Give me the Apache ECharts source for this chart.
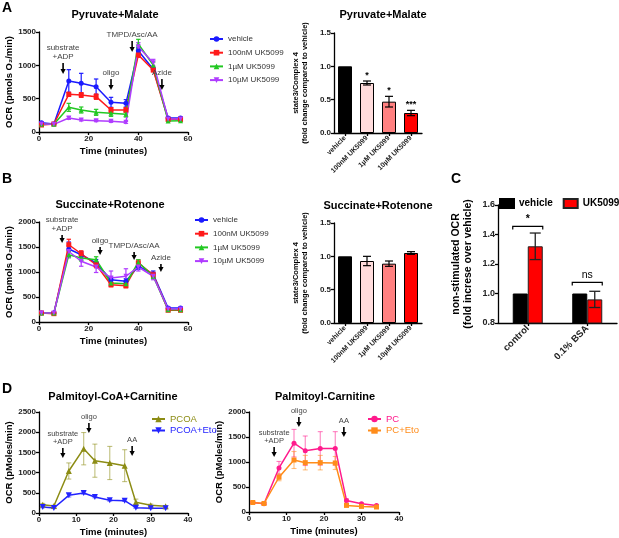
<!DOCTYPE html>
<html><head><meta charset="utf-8">
<script src="https://cdn.jsdelivr.net/npm/echarts@6/dist/echarts.min.js"></script>
<style>html,body{margin:0;padding:0;background:#fff}#c{width:619px;height:538px}</style>
</head><body><div id="c"></div>
<script>
// ---------- DATA ----------
const timeAB = [1, 6, 12, 17, 23, 29, 35, 40, 46, 52, 57];
const seriesNames = ['vehicle', '100nM UK5099', '1µM UK5099', '10µM UK5099'];

// Panel A (Pyruvate+Malate) OCR
const pmVehicle = [140, 120, 765, 730, 680, 445, 430, 1220, 940, 210, 210];
const pmVehicleErr = [15, 10, 170, 150, 115, 75, 55, 50, 30, 15, 15];
const pm100nM = [105, 120, 565, 555, 530, 330, 330, 1155, 930, 190, 190];
const pm100nMErr = [15, 15, 30, 35, 40, 35, 35, 35, 25, 10, 10];
const pm1uM = [115, 115, 370, 330, 295, 280, 265, 1320, 1005, 165, 170];
const pm1uMErr = [10, 10, 60, 45, 45, 45, 40, 70, 45, 10, 10];
const pm10uM = [120, 115, 210, 180, 170, 160, 145, 1280, 1040, 195, 195];
const pm10uMErr = [10, 10, 20, 15, 15, 15, 15, 60, 50, 10, 10];

// Panel B (Succinate+Rotenone) OCR
const srVehicle = [180, 180, 1460, 1345, 1180, 845, 815, 1115, 960, 280, 280];
const srVehicleErr = [15, 15, 140, 60, 70, 60, 50, 60, 60, 20, 20];
const sr100nM = [180, 167, 1545, 1365, 1145, 745, 725, 1180, 945, 235, 235];
const sr100nMErr = [15, 10, 110, 60, 60, 40, 40, 60, 50, 15, 15];
const sr1uM = [180, 180, 1345, 1280, 1245, 780, 765, 1195, 915, 245, 245];
const sr1uMErr = [15, 15, 60, 60, 60, 40, 40, 50, 50, 15, 15];
const sr10uM = [180, 180, 1410, 1215, 1100, 880, 915, 1100, 915, 260, 260];
const sr10uMErr = [15, 15, 120, 100, 110, 140, 150, 80, 70, 20, 20];

// Bar panels A/B (state3/Complex 4)
const barCats = ['vehicle', '100nM UK5099', '1µM UK5099', '10µM UK5099'];
const pmRatio = [1.0, 0.75, 0.47, 0.30];
const pmRatioErr = [0, 0.03, 0.08, 0.04];
const pmSig = ['', '*', '*', '***'];
const srRatio = [1.0, 0.93, 0.89, 1.05];
const srRatioErr = [0, 0.07, 0.04, 0.02];

// Panel C
const cCats = ['control', '0.1% BSA'];
const cVehicle = [1.0, 1.0];
const cUK = [1.32, 0.96];
const cUKErr = [0.09, 0.055];
const cSig = ['*', 'ns'];
const cSigLevel = [1.455, 1.075];

// Panel D
const timeD = [1, 4, 8, 12, 15, 19, 23, 26, 30, 34];
const pcoa = [206, 173, 1040, 1592, 1295, 1238, 1172, 264, 190, 165];
const pcoaErr = [30, 20, 200, 400, 410, 410, 395, 80, 30, 20];
const pcoaEto = [148, 124, 437, 495, 396, 313, 305, 132, 115, 115];
const pcoaEtoErr = [20, 15, 40, 30, 20, 20, 20, 15, 10, 10];
const pc = [192, 166, 881, 1377, 1225, 1272, 1272, 232, 166, 132];
const pcErr = [20, 20, 130, 275, 295, 335, 335, 30, 15, 15];
const pcEto = [190, 170, 695, 1040, 987, 987, 980, 132, 112, 100];
const pcEtoErr = [20, 20, 70, 170, 145, 145, 130, 15, 10, 10];

// Injection annotations (time, OCR at arrow tip)
const notesA = [{t: 9.7, v: 870, label: 'substrate\n+ADP'}, {t: 29, v: 630, label: 'oligo'}, {t: 37.5, v: 1200, label: 'TMPD/Asc/AA'}, {t: 49.5, v: 630, label: 'Azide'}];
const notesB = [{t: 9.3, v: 1580, label: 'substrate\n+ADP'}, {t: 24.6, v: 1340, label: 'oligo'}, {t: 38.3, v: 1240, label: 'TMPD/Asc/AA'}, {t: 49.1, v: 1000, label: 'Azide'}];
const notesD1 = [{t: 6.4, v: 1360, label: 'substrate\n+ADP'}, {t: 13.4, v: 1980, label: 'oligo'}, {t: 25, v: 1410, label: 'AA'}];
const notesD2 = [{t: 6.7, v: 1100, label: 'substrate\n+ADP'}, {t: 13.3, v: 1700, label: 'oligo'}, {t: 25.3, v: 1500, label: 'AA'}];

// ---------- STYLE ----------
const FONT = "'Liberation Sans', Arial, sans-serif";
const C_BLUE = '#1a1aff', C_RED = '#ff1a1a', C_GREEN = '#22c822', C_PURPLE = '#b03cff';
const lineColors = [C_BLUE, C_RED, C_GREEN, C_PURPLE];
const lineSymbols = ['circle', 'rect', 'triangle', 'triangle'];
const lineRot = [0, 0, 0, 180];
const barColors = ['#000000', '#ffdcdc', '#ff8080', '#ff0000'];

function zip(xs, ys) { return xs.map((x, i) => [x, ys[i]]); }

function axisBase(extra) {
  return Object.assign({
    axisLine: {show: true, onZero: false, lineStyle: {color: '#000', width: 1.3}},
    axisTick: {show: true, length: 3, lineStyle: {color: '#000', width: 1.3}},
    splitLine: {show: false},
    axisLabel: {color: '#222', fontSize: 8, fontWeight: 'bold', fontFamily: FONT, margin: 3, formatter: v => String(v)},
    nameTextStyle: {color: '#000', fontWeight: 'bold', fontFamily: FONT, fontSize: 9.5}
  }, extra);
}
function timeAxis(grid, max, interval) {
  return axisBase({type: 'value', gridIndex: grid, min: 0, max: max, interval: interval,
    name: 'Time (minutes)', nameLocation: 'middle', nameGap: 14});
}
function ocrAxis(grid, max, name, gap) {
  return axisBase({type: 'value', gridIndex: grid, min: 0, max: max, interval: 500,
    name: name, nameLocation: 'middle', nameGap: gap});
}
function catAxis(grid, cats, fs) {
  const a = axisBase({type: 'category', gridIndex: grid, data: cats});
  a.axisTick.alignWithLabel = true;
  a.axisLabel = {color: '#222', fontSize: fs, fontWeight: 'bold', fontFamily: FONT, rotate: 45, margin: 4, interval: 0};
  return a;
}

function errBars(xi, yi, xs, ys, es, color, cap, width, opacity, dx) {
  const rows = [];
  xs.forEach((x, i) => { if (es[i] > 0) rows.push([x, ys[i] - es[i], ys[i] + es[i]]); });
  const st = {stroke: color, lineWidth: width, opacity: opacity};
  return {
    type: 'custom', xAxisIndex: xi, yAxisIndex: yi, data: rows, silent: true, z: 3,
    encode: {x: 0, y: [1, 2]},
    renderItem: (params, api) => {
      const x = api.value(0);
      const lo = api.coord([x, api.value(1)]);
      const hi = api.coord([x, api.value(2)]);
      const px = lo[0] + (dx || 0);
      return {type: 'group', children: [
        {type: 'line', shape: {x1: px, y1: lo[1], x2: px, y2: hi[1]}, style: st},
        {type: 'line', shape: {x1: px - cap, y1: hi[1], x2: px + cap, y2: hi[1]}, style: st},
        {type: 'line', shape: {x1: px - cap, y1: lo[1], x2: px + cap, y2: lo[1]}, style: st}
      ]};
    }
  };
}

function notes(xi, yi, list, len, fs) {
  return {
    type: 'custom', xAxisIndex: xi, yAxisIndex: yi, silent: true, z: 10,
    data: list.map(n => [n.t, n.v]),
    renderItem: (params, api) => {
      const p = api.coord([api.value(0), api.value(1)]);
      const n = list[params.dataIndex];
      const top = p[1] - len;
      return {type: 'group', children: [
        {type: 'line', shape: {x1: p[0], y1: top, x2: p[0], y2: p[1] - 4}, style: {stroke: '#000', lineWidth: 1.6}},
        {type: 'polygon', shape: {points: [[p[0] - 2.6, p[1] - 5], [p[0] + 2.6, p[1] - 5], [p[0], p[1]]]}, style: {fill: '#000'}},
        {type: 'text', x: p[0], y: top - 2, style: {text: n.label, fill: '#444', fontSize: fs, fontFamily: FONT,
          align: 'center', verticalAlign: 'bottom', lineHeight: fs + 0.5}}
      ]};
    }
  };
}

function lineSeries(name, xi, yi, xs, ys, color, symbol, rot, size) {
  return {type: 'line', name: name, xAxisIndex: xi, yAxisIndex: yi, data: zip(xs, ys),
    symbol: symbol, symbolRotate: rot, symbolSize: size, z: 5,
    lineStyle: {color: color, width: 1.5}, itemStyle: {color: color}, animation: false};
}

function starSeries(xi, yi, vals, errs, sig) {
  return {type: 'custom', xAxisIndex: xi, yAxisIndex: yi, silent: true, z: 6,
    data: vals.map((v, i) => [i, v + errs[i]]),
    renderItem: (params, api) => {
      const p = api.coord([api.value(0), api.value(1)]);
      return {type: 'text', x: p[0], y: p[1] - 1, style: {text: sig[params.dataIndex], fill: '#000', fontSize: 9,
        fontWeight: 'bold', fontFamily: FONT, align: 'center', verticalAlign: 'bottom'}};
    }};
}

const series = [];
// Panel A lines
const pmSets = [[pmVehicle, pmVehicleErr], [pm100nM, pm100nMErr], [pm1uM, pm1uMErr], [pm10uM, pm10uMErr]];
pmSets.forEach((s, k) => {
  series.push(errBars(0, 0, timeAB, s[0], s[1], lineColors[k], 2.2, 1.2, 1));
  series.push(lineSeries(seriesNames[k], 0, 0, timeAB, s[0], lineColors[k], lineSymbols[k], lineRot[k], 5));
});
series.push(notes(0, 0, notesA, 11, 8));
// Panel B lines
const srSets = [[srVehicle, srVehicleErr], [sr100nM, sr100nMErr], [sr1uM, sr1uMErr], [sr10uM, sr10uMErr]];
srSets.forEach((s, k) => {
  series.push(errBars(2, 2, timeAB, s[0], s[1], lineColors[k], 2.2, 1.2, 1));
  series.push(lineSeries(seriesNames[k], 2, 2, timeAB, s[0], lineColors[k], lineSymbols[k], lineRot[k], 5));
});
series.push(notes(2, 2, notesB, 8, 8));

// Bar panels
function ratioBars(xi, yi, vals) {
  return {type: 'bar', xAxisIndex: xi, yAxisIndex: yi, barWidth: 14, z: 2,
    data: vals.map((v, i) => ({value: v, itemStyle: {color: barColors[i]}})),
    itemStyle: {borderColor: '#000', borderWidth: 1}};
}
series.push(ratioBars(1, 1, pmRatio));
series.push(errBars(1, 1, [0, 1, 2, 3], pmRatio, pmRatioErr, '#000', 4, 1.2, 1));
series.push(starSeries(1, 1, pmRatio, pmRatioErr, pmSig));
series.push(ratioBars(3, 3, srRatio));
series.push(errBars(3, 3, [0, 1, 2, 3], srRatio, srRatioErr, '#000', 4, 1.2, 1));

// Panel C
series.push({type: 'bar', name: 'vehicle ', xAxisIndex: 4, yAxisIndex: 4, data: cVehicle, barWidth: 15, barGap: 0,
  itemStyle: {color: '#000', borderColor: '#000', borderWidth: 1}});
series.push({type: 'bar', name: 'UK5099', xAxisIndex: 4, yAxisIndex: 4, data: cUK, barWidth: 15, barGap: 0,
  itemStyle: {color: '#ff0000', borderColor: '#222', borderWidth: 1}});
series.push(errBars(4, 4, [0, 1], cUK, cUKErr, '#222', 5.5, 1.3, 1, 7.5));
series.push({type: 'custom', xAxisIndex: 4, yAxisIndex: 4, silent: true, z: 6,
  data: cSigLevel.map((v, i) => [i, v]),
  renderItem: (params, api) => {
    const p = api.coord([api.value(0), api.value(1)]);
    const st = {stroke: '#000', lineWidth: 1.2};
    return {type: 'group', children: [
      {type: 'polyline', shape: {points: [[p[0] - 15, p[1] + 3], [p[0] - 15, p[1]], [p[0] + 15, p[1]], [p[0] + 15, p[1] + 3]]}, style: Object.assign({fill: null}, st)},
      {type: 'text', x: p[0], y: p[1] - 2, style: {text: cSig[params.dataIndex], fill: '#000', fontSize: 10.5,
        fontWeight: cSig[params.dataIndex] === 'ns' ? 'normal' : 'bold', fontFamily: FONT, align: 'center', verticalAlign: 'bottom'}}
    ]};
  }});

// Panel D
const C_OLIVE = '#8c8c14', C_DBLUE = '#2323ff', C_PINK = '#ff1a8c', C_ORANGE = '#ff8c1a';
series.push(errBars(5, 5, timeD, pcoa, pcoaErr, C_OLIVE, 2.5, 1.1, 0.55));
series.push(lineSeries('PCOA', 5, 5, timeD, pcoa, C_OLIVE, 'triangle', 0, 6));
series.push(errBars(5, 5, timeD, pcoaEto, pcoaEtoErr, C_DBLUE, 2.5, 1.1, 0.55));
series.push(lineSeries('PCOA+Eto', 5, 5, timeD, pcoaEto, C_DBLUE, 'triangle', 180, 6));
series.push(notes(5, 5, notesD1, 10, 7.5));
series.push(errBars(6, 6, timeD, pc, pcErr, C_PINK, 2.5, 1.1, 0.55));
series.push(lineSeries('PC', 6, 6, timeD, pc, C_PINK, 'circle', 0, 5));
series.push(errBars(6, 6, timeD, pcEto, pcEtoErr, C_ORANGE, 2.5, 1.1, 0.55));
series.push(lineSeries('PC+Eto', 6, 6, timeD, pcEto, C_ORANGE, 'rect', 0, 5));
series.push(notes(6, 6, notesD2, 10, 7.5));

const gridBase = {outerBoundsMode: 'none', containLabel: false};
const grids = [
  {left: 39, top: 32, width: 149, height: 100},
  {left: 334, top: 33, width: 88, height: 100},
  {left: 39, top: 222, width: 149, height: 100},
  {left: 334, top: 223, width: 88, height: 100},
  {left: 498, top: 205, width: 119, height: 118},
  {left: 39, top: 412, width: 149, height: 101},
  {left: 249, top: 412, width: 150, height: 100}
].map(g => Object.assign({}, gridBase, g));

const ratioName = 'state3/Complex 4\n(fold change compared to vehicle)';
const xAxes = [
  timeAxis(0, 60, 20),
  catAxis(1, barCats, 7),
  timeAxis(2, 60, 20),
  catAxis(3, barCats, 7),
  catAxis(4, cCats, 9.5),
  timeAxis(5, 40, 10),
  timeAxis(6, 40, 10)
];
const ratioAxis = g => axisBase({type: 'value', gridIndex: g, min: 0, max: 1.5, interval: 0.5,
  name: ratioName, nameLocation: 'middle', nameGap: 25,
  nameTextStyle: {color: '#000', fontWeight: 'bold', fontFamily: FONT, fontSize: 7.5, lineHeight: 8.5},
  axisLabel: {color: '#222', fontSize: 8, fontWeight: 'bold', fontFamily: FONT, margin: 3, formatter: v => v.toFixed(1)}});
const yAxes = [
  ocrAxis(0, 1500, 'OCR (pmols O₂/min)', 24),
  ratioAxis(1),
  ocrAxis(2, 2000, 'OCR (pmols O₂/min)', 24),
  ratioAxis(3),
  axisBase({type: 'value', gridIndex: 4, min: 0.8, max: 1.6, interval: 0.2,
    name: 'non-stimulated OCR\n(fold increse over vehicle)', nameLocation: 'middle', nameGap: 24,
    nameTextStyle: {color: '#000', fontWeight: 'bold', fontFamily: FONT, fontSize: 10.5, lineHeight: 12},
    axisLabel: {color: '#222', fontSize: 9, fontWeight: 'bold', fontFamily: FONT, margin: 3, formatter: v => v.toFixed(1)}}),
  ocrAxis(5, 2500, 'OCR (pMoles/min)', 24),
  ocrAxis(6, 2000, 'OCR (pMoles/min)', 21)
];

const lineLegend = (left, top) => ({data: seriesNames, left: left, top: top, orient: 'vertical',
  itemWidth: 13, itemHeight: 7, itemGap: 5.7, selectedMode: false, padding: 0,
  textStyle: {fontSize: 8, color: '#333', fontFamily: FONT}});

const legends = [
  lineLegend(209, 35),
  lineLegend(194, 216),
  {data: ['vehicle ', 'UK5099'], left: 499, top: 198, width: 200, orient: 'horizontal', icon: 'rect', itemWidth: 14, itemHeight: 9,
    itemGap: 7, selectedMode: false, padding: 0, textStyle: {fontSize: 10, fontWeight: 'bold', color: '#000', fontFamily: FONT}},
  {data: [{name: 'PCOA', textStyle: {color: C_OLIVE}}, {name: 'PCOA+Eto', textStyle: {color: C_DBLUE}}],
    left: 151, top: 414, orient: 'vertical', itemWidth: 13, itemHeight: 8, itemGap: 1.5, selectedMode: false, padding: 0,
    textStyle: {fontSize: 9.5, fontFamily: FONT}},
  {data: [{name: 'PC', textStyle: {color: C_PINK}}, {name: 'PC+Eto', textStyle: {color: C_ORANGE}}],
    left: 367, top: 414, orient: 'vertical', itemWidth: 13, itemHeight: 8, itemGap: 1.5, selectedMode: false, padding: 0,
    textStyle: {fontSize: 9.5, fontFamily: FONT}}
];

const T = (text, x, y, size, extra) => Object.assign({type: 'text', x: x, y: y, silent: true,
  style: Object.assign({text: text, fill: '#000', fontSize: size, fontWeight: 'bold', fontFamily: FONT,
    align: 'center', verticalAlign: 'middle'}, extra || {})});
const graphics = [
  T('A', 2, 1, 14, {align: 'left', verticalAlign: 'top'}),
  T('B', 2, 172, 14, {align: 'left', verticalAlign: 'top'}),
  T('C', 451, 172, 14, {align: 'left', verticalAlign: 'top'}),
  T('D', 2, 382, 14, {align: 'left', verticalAlign: 'top'}),
  T('Pyruvate+Malate', 115, 15, 11),
  T('Pyruvate+Malate', 383, 15, 11),
  T('Succinate+Rotenone', 110, 205, 11),
  T('Succinate+Rotenone', 378, 206, 11),
  T('Palmitoyl-CoA+Carnitine', 113, 397, 11),
  T('Palmitoyl-Carnitine', 325, 397, 11)
];

const chart = echarts.init(document.getElementById('c'), null, {renderer: 'canvas'});
chart.setOption({
  animation: false,
  backgroundColor: '#fff',
  textStyle: {fontFamily: FONT},
  grid: grids,
  xAxis: xAxes,
  yAxis: yAxes,
  legend: legends,
  graphic: graphics,
  series: series
});
</script></body></html>
